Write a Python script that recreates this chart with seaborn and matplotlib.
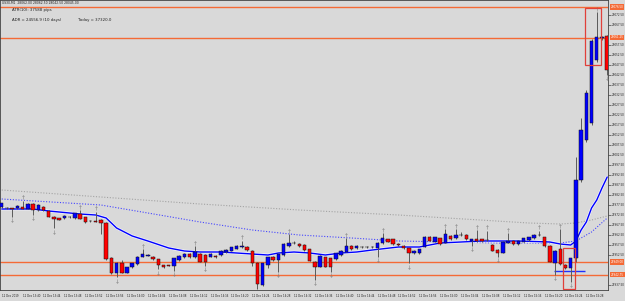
import numpy as np
import pandas as pd
import matplotlib
matplotlib.use('Agg')
import matplotlib.pyplot as plt
import matplotlib.patheffects as pe
from matplotlib.patches import Rectangle
import seaborn as sns

# US30 M1 candles
opens = [27976.3, 27976.0, 27975.8, 27976.0, 27976.7, 27975.7, 27978.0, 27975.0, 27976.7, 27974.5,
         27971.7, 27970.8, 27971.0, 27971.5, 27970.8, 27972.8, 27971.3, 27969.7, 27969.3, 27970.0,
         27968.7, 27951.2, 27943.3, 27948.3, 27943.7, 27946.3, 27948.0, 27951.7, 27952.2, 27951.7,
         27950.3, 27947.3, 27947.3, 27947.0, 27950.0, 27951.3, 27953.0, 27951.3, 27953.0, 27952.5,
         27951.7, 27952.0, 27952.5, 27953.8, 27954.7, 27955.7, 27956.3, 27956.7, 27954.7, 27948.7,
         27937.5, 27947.5, 27951.7, 27950.0, 27952.5, 27957.0, 27958.3, 27958.0, 27957.5, 27955.3,
         27949.2, 27946.7, 27951.3, 27950.8, 27950.3, 27952.5, 27954.2, 27957.0, 27955.8, 27956.3,
         27956.7, 27956.5, 27955.8, 27958.3, 27960.3, 27960.3, 27958.0, 27957.0, 27955.8, 27953.3,
         27953.3, 27956.7, 27961.7, 27959.2, 27960.8, 27958.7, 27962.0, 27960.8, 27962.5, 27962.5,
         27959.7, 27960.3, 27960.3, 27960.0, 27957.5, 27955.0, 27953.7, 27958.7, 27959.7, 27958.0,
         27959.2, 27960.0, 27960.8, 27962.5, 27961.3, 27957.0, 27948.3, 27955.3, 27947.5, 27945.8,
         27951.0, 27990.0, 28010.0, 28018.5, 28050.0, 28061.0, 28062.0]
highs = [27978.7, 27976.3, 27976.2, 27977.3, 27979.7, 27978.3, 27978.3, 27978.0, 27977.0, 27974.8,
         27972.0, 27971.2, 27972.5, 27972.0, 27973.7, 27975.0, 27971.7, 27970.0, 27974.2, 27970.3,
         27969.0, 27951.5, 27949.0, 27950.0, 27946.7, 27948.7, 27952.0, 27955.3, 27952.8, 27952.0,
         27950.7, 27947.7, 27947.7, 27951.2, 27952.3, 27953.3, 27953.3, 27957.0, 27953.3, 27952.8,
         27953.3, 27952.3, 27955.0, 27955.3, 27956.7, 27957.3, 27959.7, 27957.0, 27955.0, 27949.0,
         27948.7, 27951.7, 27952.0, 27953.2, 27958.3, 27963.0, 27959.7, 27958.3, 27957.8, 27955.7,
         27949.5, 27952.3, 27951.7, 27951.2, 27953.7, 27955.0, 27960.8, 27957.3, 27957.3, 27957.0,
         27957.0, 27956.8, 27959.0, 27963.3, 27960.7, 27960.7, 27958.3, 27957.3, 27956.2, 27955.0,
         27955.7, 27962.0, 27962.0, 27961.7, 27961.2, 27965.3, 27962.3, 27965.3, 27964.2, 27962.8,
         27960.7, 27965.0, 27960.7, 27964.7, 27957.8, 27955.3, 27959.5, 27963.3, 27960.0, 27960.0,
         27961.2, 27961.7, 27962.8, 27964.7, 27961.7, 27957.3, 27955.0, 27965.3, 27947.8, 27951.2,
         28001.5, 28021.0, 28035.0, 28060.5, 28074.0, 28062.0, 28062.5]
lows = [27976.0, 27975.5, 27971.7, 27975.7, 27975.3, 27975.3, 27972.5, 27974.7, 27974.7, 27971.3,
        27965.8, 27969.8, 27970.7, 27971.0, 27970.5, 27970.3, 27968.5, 27969.2, 27968.8, 27963.0,
        27950.0, 27943.0, 27941.3, 27943.3, 27943.3, 27946.0, 27947.7, 27951.3, 27951.8, 27950.0,
        27945.3, 27946.0, 27946.8, 27944.7, 27949.7, 27951.0, 27951.0, 27951.0, 27948.8, 27947.0,
        27951.3, 27951.0, 27952.2, 27953.5, 27954.3, 27955.3, 27956.0, 27954.7, 27947.0, 27935.3,
        27937.0, 27945.8, 27949.7, 27944.2, 27952.2, 27956.7, 27958.0, 27956.7, 27954.7, 27949.3,
        27940.0, 27946.3, 27946.3, 27944.2, 27950.0, 27952.2, 27953.8, 27955.0, 27955.5, 27956.0,
        27956.2, 27956.2, 27951.7, 27958.0, 27958.8, 27957.7, 27957.2, 27955.5, 27948.3, 27953.0,
        27953.0, 27956.3, 27959.3, 27958.8, 27957.7, 27958.3, 27960.0, 27960.5, 27962.0, 27960.0,
        27957.0, 27959.2, 27959.2, 27959.5, 27954.3, 27951.7, 27953.3, 27958.3, 27957.7, 27957.7,
        27958.8, 27959.7, 27960.5, 27962.0, 27956.7, 27948.8, 27942.5, 27947.7, 27945.5, 27939.2,
        27949.0, 27989.0, 28009.0, 28017.5, 28049.0, 28060.0, 28042.5]
closes = [27978.3, 27975.8, 27975.7, 27977.0, 27975.7, 27978.0, 27975.0, 27977.7, 27975.0, 27971.7,
          27970.3, 27970.2, 27972.2, 27971.3, 27973.3, 27970.7, 27968.8, 27969.5, 27969.2, 27968.3,
          27950.5, 27943.3, 27948.7, 27943.7, 27946.3, 27948.3, 27951.7, 27953.0, 27952.5, 27950.3,
          27947.5, 27946.3, 27947.2, 27950.8, 27952.0, 27953.0, 27951.3, 27954.2, 27949.2, 27949.2,
          27953.0, 27951.3, 27954.7, 27955.0, 27956.3, 27957.0, 27957.0, 27955.0, 27948.7, 27938.0,
          27948.3, 27951.3, 27950.0, 27952.8, 27958.0, 27958.7, 27958.7, 27957.0, 27955.0, 27949.7,
          27946.7, 27952.0, 27946.7, 27946.7, 27953.3, 27954.7, 27957.0, 27955.3, 27957.0, 27956.7,
          27956.5, 27956.4, 27958.7, 27961.2, 27959.2, 27958.0, 27957.5, 27955.8, 27953.7, 27954.7,
          27955.3, 27961.7, 27959.7, 27961.3, 27958.0, 27962.8, 27960.3, 27962.5, 27962.3, 27960.3,
          27960.3, 27959.5, 27959.5, 27959.8, 27954.7, 27953.7, 27959.2, 27959.7, 27958.0, 27959.7,
          27960.8, 27961.3, 27962.5, 27962.3, 27957.0, 27949.2, 27954.7, 27948.0, 27945.8, 27950.8,
          27990.0, 28015.0, 28033.5, 28059.5, 28061.5, 28061.5, 28045.0]

# moving averages, sampled at a few bars
ma_fast_idx = [0, 6, 9, 13, 15, 18, 20, 22, 25, 28, 32, 35, 38, 42, 48, 51, 53, 56, 59, 62, 65, 68,
               71, 76, 80, 84, 88, 92, 99, 105, 107, 109, 110, 111, 112, 113, 114, 115, 116]
ma_fast = [27975.5, 27975.5, 27974.5, 27973.5, 27973.0, 27972.5, 27971.0, 27966.0, 27962.0, 27959.5,
           27956.0, 27954.5, 27954.0, 27954.0, 27953.0, 27952.5, 27953.5, 27954.0, 27953.5, 27952.5,
           27953.5, 27954.0, 27955.0, 27956.5, 27956.5, 27958.5, 27959.0, 27959.5, 27959.5, 27959.0,
           27958.0, 27957.5, 27959.5, 27965.0, 27969.0, 27976.0, 27980.0, 27986.0, 27991.5]
ma_mid_idx = [0, 19, 28, 38, 48, 57, 67, 76, 86, 95, 104, 107, 110, 113, 116]
ma_mid = [27980.5, 27977.5, 27973.5, 27969.0, 27965.0, 27962.5, 27961.0, 27959.5, 27959.0, 27958.5,
          27958.5, 27958.5, 27959.5, 27964.0, 27971.0]
ma_slow_idx = [0, 19, 38, 57, 76, 101, 107, 110, 113, 116]
ma_slow = [27985.0, 27981.5, 27978.0, 27975.0, 27972.5, 27968.5, 27968.0, 27968.5, 27970.0, 27972.0]

up_fractals = [4, 15, 18, 27, 37, 46, 55, 66, 73, 85, 87, 91, 93, 97, 103, 107, 114]
down_fractals = [2, 6, 10, 22, 30, 33, 39, 49, 53, 60, 63, 72, 78, 90, 95, 106, 109, 116]

level_lines = [28076.5, 28061.25, 27949.0, 27942.75]
tick_pos = list(range(0, 113, 4))
tick_labels = ['12 Dec 2019', '12 Dec 13:40', '12 Dec 13:44', '12 Dec 13:48', '12 Dec 13:52',
               '12 Dec 13:56', '12 Dec 14:00', '12 Dec 14:04', '12 Dec 14:08', '12 Dec 14:12',
               '12 Dec 14:16', '12 Dec 14:20', '12 Dec 14:24', '12 Dec 14:28', '12 Dec 14:32',
               '12 Dec 14:36', '12 Dec 14:40', '12 Dec 14:44', '12 Dec 14:48', '12 Dec 14:52',
               '12 Dec 14:56', '12 Dec 15:00', '12 Dec 15:04', '12 Dec 15:08', '12 Dec 15:12',
               '12 Dec 15:16', '12 Dec 15:20', '12 Dec 15:24', '12 Dec 15:28']

df = pd.DataFrame({'open': opens, 'high': highs, 'low': lows, 'close': closes})
df['bar'] = np.arange(len(df))
ma_df = pd.concat([
    pd.DataFrame({'bar': ma_fast_idx, 'value': ma_fast, 'ma': 'fast'}),
    pd.DataFrame({'bar': ma_mid_idx, 'value': ma_mid, 'ma': 'mid'}),
    pd.DataFrame({'bar': ma_slow_idx, 'value': ma_slow, 'ma': 'slow'}),
])

bg = '#d9d9d9'
orange = '#f46a36'
sns.set_style('white', rc={'axes.facecolor': bg, 'figure.facecolor': bg,
                           'axes.edgecolor': '#404040'})

fig = plt.figure(figsize=(6.25, 3.01), dpi=100)
ax = fig.add_axes([0.0, 11 / 301, 608 / 625, 1 - 11 / 301])

# moving averages
sns.lineplot(data=ma_df[ma_df.ma == 'slow'], x='bar', y='value', ax=ax, color='#a3a3a3',
             linestyle=(0, (1, 1.5)), linewidth=0.8, zorder=1)
sns.lineplot(data=ma_df[ma_df.ma == 'mid'], x='bar', y='value', ax=ax, color='#4545ff',
             linestyle=(0, (1, 1.5)), linewidth=0.8, zorder=1)
sns.lineplot(data=ma_df[ma_df.ma == 'fast'], x='bar', y='value', ax=ax, color='#0000ff',
             linewidth=1.0, zorder=2,
             path_effects=[pe.Stroke(linewidth=2.0, foreground='#f2f2ff'), pe.Normal()])

# level lines
for lv in level_lines:
    ax.axhline(lv, color=orange, linewidth=1.0, zorder=1)
ax.hlines(27944.5, 105.8, 111.7, color='#2030ff', linewidth=1.0, zorder=2)

# candles
up = df.close >= df.open
ax.vlines(df.bar, df.low, df.high, color='#5a5a5a', linewidth=0.7, zorder=3)
body = (df.close - df.open).abs().clip(lower=0.15)
ax.bar(df.bar, body, bottom=df[['open', 'close']].min(axis=1), width=0.66,
       color=np.where(up, '#0000ff', '#ff0000'), edgecolor='#111111', linewidth=0.35, zorder=4)

# fractal arrows
ax.scatter(up_fractals, df.high[up_fractals] + 1.6, marker=r'$\uparrow$', s=9,
           color='#7a7a7a', linewidths=0, zorder=5)
ax.scatter(down_fractals, df.low[down_fractals] - 1.6, marker=r'$\downarrow$', s=9,
           color='#7a7a7a', linewidths=0, zorder=5)

# highlight boxes
ax.add_patch(Rectangle((111.7, 28047.5), 3.1, 28.5, fill=False, edgecolor='#e0403a',
                       linewidth=0.9, zorder=6))
ax.add_patch(Rectangle((107.5, 27935.5), 2.4, 20.5, fill=False, edgecolor='#e0403a',
                       linewidth=0.9, zorder=6))

ax.set_xlim(-0.33, 116.15)
ax.set_ylim(27935, 28080)
ax.set_xlabel('')
ax.set_ylabel('')

# price scale on the right, the highlighted level labels take the place of nearby ticks
yticks = [t for t in np.arange(27937.5, 28080, 5.0)
          if min(abs(t - lv) for lv in level_lines) > 2.8]
ax.yaxis.tick_right()
ax.set_yticks(yticks)
ax.set_yticklabels([f'{t:.2f}' for t in yticks])
ax.tick_params(axis='y', labelsize=2.0, length=2, width=0.4, pad=1.0, colors='#202020')
ax.set_xticks(tick_pos)
ax.set_xticklabels(tick_labels, ha='left')
ax.tick_params(axis='x', labelsize=1.9, length=1.5, width=0.4, pad=1.5, colors='#202020')
for s in ax.spines.values():
    s.set_linewidth(0.6)

# highlighted price labels
for lv in level_lines:
    ax.text(1.005, lv, f'{lv:.2f}', transform=ax.get_yaxis_transform(), fontsize=2.0,
            color='white', va='center', ha='left',
            bbox=dict(boxstyle='square,pad=0.2', facecolor=orange, edgecolor='none'),
            clip_on=False, zorder=7)

# chart header texts
ax.text(0.003, 0.997, 'US30,M1  28062.00 28062.50 28042.50 28045.00', transform=ax.transAxes,
        fontsize=2.2, va='top', ha='left', color='#202020')
ax.text(2, 28075.0, 'ATR(10): 37588 pips', fontsize=2.8, va='center', ha='left', color='#202020')
ax.text(2, 28070.0, 'ADR = 24556.9', fontsize=2.8, va='center', ha='left', color='#202020')
ax.text(8.0, 28070.0, '(10 days)', fontsize=2.8, va='center', ha='left', color='#202020')
ax.text(14.6, 28070.0, 'Today = 37320.0', fontsize=2.8, va='center', ha='left', color='#202020')

fig.savefig('out.png', dpi=100, facecolor=bg)
plt.close(fig)
